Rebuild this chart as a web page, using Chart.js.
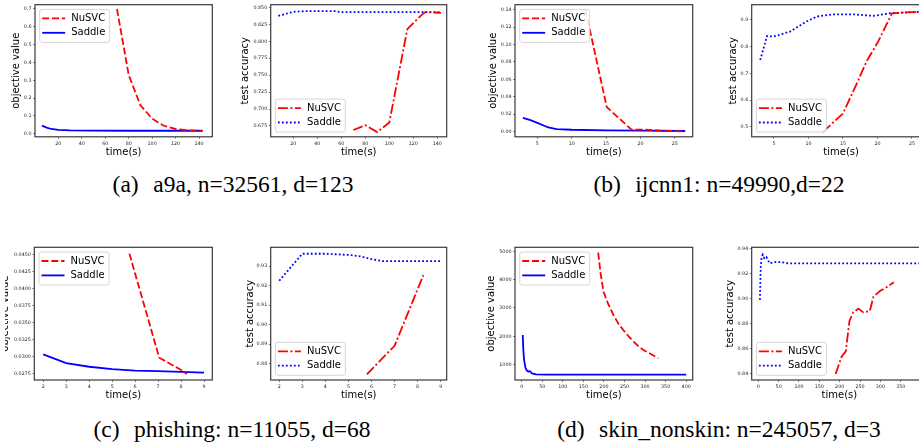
<!DOCTYPE html>
<html lang="en">
<head>
<meta charset="UTF-8">
<title>NuSVC vs Saddle</title>
<script src="https://cdn.jsdelivr.net/npm/chart.js"></script>
<style>
  html, body { margin: 0; padding: 0; background: #fff; overflow: hidden; }
  body { width: 919px; height: 442px; position: relative; }
  .row { position: absolute; overflow: hidden; }
  .row canvas { position: absolute; }
  .cap { position: absolute; font-family: "Liberation Serif", "Times New Roman", serif; font-size: 23.5px;
         white-space: nowrap; color: #000; transform: translate(-50%, -50%); }
  .cap span { margin-right: 0.62em; }
</style>
</head>
<body>
<div class="row" id="top" style="left:0;top:0;width:919px;height:170px"></div>
<div class="row" id="bot" style="left:5px;top:210px;width:914px;height:200px"></div>
<div class="cap" style="left:233px;top:184px"><span>(a)</span>a9a, n=32561, d=123</div>
<div class="cap" style="left:719px;top:184px"><span>(b)</span>ijcnn1: n=49990,d=22</div>
<div class="cap" style="left:232px;top:429px"><span>(c)</span>phishing: n=11055, d=68</div>
<div class="cap" style="left:719px;top:429px"><span>(d)</span>skin_nonskin: n=245057, d=3</div>
<script>
const seriesNames = ['NuSVC', 'Saddle'];

// (a) a9a
const a9aObjNuTime = [70, 80, 90, 100, 110, 120, 130, 143];
const a9aObjNu = [0.70, 0.33, 0.16, 0.085, 0.045, 0.027, 0.020, 0.015];
const a9aObjSaTime = [6, 10, 14, 20, 30, 50, 80, 110, 143];
const a9aObjSa = [0.046, 0.035, 0.027, 0.022, 0.019, 0.018, 0.017, 0.017, 0.017];
const a9aAccNuTime = [70, 80, 90, 100, 115, 127, 130, 143];
const a9aAccNu = [0.669, 0.676, 0.666, 0.680, 0.818, 0.839, 0.843, 0.842];
const a9aAccSaTime = [7.5, 20, 30, 55, 60, 143];
const a9aAccSa = [0.8376, 0.8435, 0.8445, 0.8445, 0.843, 0.843];

// (b) ijcnn1
const ijObjNuTime = [12, 15.1, 18.7, 20.5, 23, 26.5];
const ijObjNu = [0.140, 0.028, 0.002, 0.002, 0.001, 0.0];
const ijObjSaTime = [2.9, 4, 5, 6, 6.6, 7.8, 10, 15, 20, 26.5];
const ijObjSa = [0.0157, 0.013, 0.0099, 0.0065, 0.0046, 0.0026, 0.0019, 0.0012, 0.0008, 0.0005];
const ijAccNuTime = [12.1, 15.0, 17.0, 18.4, 20.1, 22.1, 24, 26.5];
const ijAccNu = [0.481, 0.55, 0.662, 0.744, 0.819, 0.925, 0.928, 0.930];
const ijAccSaTime = [3.0, 4.0, 4.9, 7.3, 9.7, 11.2, 13.6, 16.5, 19.4, 21.8, 26.5];
const ijAccSa = [0.75, 0.84, 0.8375, 0.856, 0.894, 0.9125, 0.921, 0.921, 0.915, 0.925, 0.931];

// (c) phishing
const phObjNuTime = [5.75, 7.05, 8.0, 8.25];
const phObjNu = [0.0451, 0.0298, 0.0280, 0.0274];
const phObjSaTime = [2, 3, 4, 5, 6, 7, 8, 9];
const phObjSa = [0.0303, 0.0290, 0.02847, 0.02813, 0.0279, 0.02782, 0.02772, 0.0276];
const phAccNuTime = [5.8, 7.0, 8.25];
const phAccNu = [0.8746, 0.8892, 0.9254];
const phAccSaTime = [2, 3, 4, 5, 5.5, 6, 6.5, 7, 8, 9];
const phAccSa = [0.9225, 0.9363, 0.9363, 0.9357, 0.935, 0.9335, 0.9325, 0.9325, 0.9325, 0.9325];

// (d) skin_nonskin
const skObjNuTime = [186, 192, 199, 210, 223, 235, 247, 260, 272, 284, 296, 314, 332];
const skObjNu = [4950, 4200, 3575, 3150, 2753, 2450, 2224, 2000, 1811, 1650, 1518, 1380, 1226];
const skObjSaTime = [2.5, 4, 6, 9, 12, 16, 20, 25, 35, 60, 100, 200, 300, 400];
const skObjSa = [2050, 1500, 1150, 900, 800, 760, 770, 690, 660, 650, 650, 650, 650, 650];
const skAccNuTime = [190, 205, 215, 224, 233, 246, 258, 274, 283, 299, 315, 333];
const skAccNu = [0.840, 0.854, 0.858, 0.882, 0.889, 0.892, 0.889, 0.890, 0.9015, 0.906, 0.909, 0.913];
const skAccSaTime = [4, 6, 8, 11, 15, 20, 28, 40, 55, 75, 150, 250, 395];
const skAccSa = [0.899, 0.925, 0.933, 0.935, 0.932, 0.933, 0.928, 0.929, 0.929, 0.928, 0.928, 0.928, 0.928];

// tick values and labels
const aXTicks = [20, 40, 60, 80, 100, 120, 140];
const aXLabels = ['20', '40', '60', '80', '100', '120', '140'];
const aObjYTicks = [0, 0.1, 0.2, 0.3, 0.4, 0.5, 0.6, 0.7];
const aObjYLabels = ['0.0', '0.1', '0.2', '0.3', '0.4', '0.5', '0.6', '0.7'];
const aAccYTicks = [0.675, 0.7, 0.725, 0.75, 0.775, 0.8, 0.825, 0.85];
const aAccYLabels = ['0.675', '0.700', '0.725', '0.750', '0.775', '0.800', '0.825', '0.850'];
const bXTicks = [5, 10, 15, 20, 25];
const bXLabels = ['5', '10', '15', '20', '25'];
const bObjYTicks = [0, 0.02, 0.04, 0.06, 0.08, 0.10, 0.12, 0.14];
const bObjYLabels = ['0.00', '0.02', '0.04', '0.06', '0.08', '0.10', '0.12', '0.14'];
const bAccYTicks = [0.5, 0.6, 0.7, 0.8, 0.9];
const bAccYLabels = ['0.5', '0.6', '0.7', '0.8', '0.9'];
const cXTicks = [2, 3, 4, 5, 6, 7, 8, 9];
const cXLabels = ['2', '3', '4', '5', '6', '7', '8', '9'];
const cObjYTicks = [0.0275, 0.03, 0.0325, 0.035, 0.0375, 0.04, 0.0425, 0.045];
const cObjYLabels = ['0.0275', '0.0300', '0.0325', '0.0350', '0.0375', '0.0400', '0.0425', '0.0450'];
const cAccYTicks = [0.88, 0.89, 0.90, 0.91, 0.92, 0.93];
const cAccYLabels = ['0.88', '0.89', '0.90', '0.91', '0.92', '0.93'];
const dObjXTicks = [0, 50, 100, 150, 200, 250, 300, 350, 400];
const dObjXLabels = ['0', '50', '100', '150', '200', '250', '300', '350', '400'];
const dAccXTicks = [0, 50, 100, 150, 200, 250, 300, 350];
const dAccXLabels = ['0', '50', '100', '150', '200', '250', '300', '350'];
const dObjYTicks = [1000, 2000, 3000, 4000, 5000];
const dObjYLabels = ['1000', '2000', '3000', '4000', '5000'];
const dAccYTicks = [0.84, 0.86, 0.88, 0.90, 0.92, 0.94];
const dAccYLabels = ['0.84', '0.86', '0.88', '0.90', '0.92', '0.94'];

const FONT = '"DejaVu Sans", sans-serif';
const RED = '#ff0000', BLUE = '#0000ff';
const LW = 1.8;
const styles = {
  obj: [{ color: RED, dash: [7, 2.8] }, { color: BLUE, dash: [] }],
  acc: [{ color: RED, dash: [10, 2.5, 2, 2.5] }, { color: BLUE, dash: [1.8, 2.2] }]
};

// matplotlib style frame round the plot area
const framePlugin = {
  id: 'frame',
  afterDatasetsDraw(chart) {
    const { ctx, chartArea: a } = chart;
    ctx.save();
    ctx.strokeStyle = '#3a3a3a';
    ctx.lineWidth = 1.2;
    ctx.strokeRect(a.left, a.top, a.right - a.left, a.bottom - a.top);
    ctx.restore();
  }
};

// legend box drawn inside the plot
const boxLegend = {
  id: 'boxLegend',
  afterDraw(chart, args, opts) {
    const { ctx, chartArea: a } = chart;
    const w = 70, h = 33;
    const x = a.left + 4.7;
    const y = opts.pos === 'ul' ? a.top + 4.7 : a.bottom - 4.7 - h;
    ctx.save();
    ctx.beginPath();
    if (ctx.roundRect) ctx.roundRect(x, y, w, h, 2.5); else ctx.rect(x, y, w, h);
    ctx.fillStyle = 'rgba(255,255,255,0.85)';
    ctx.fill();
    ctx.strokeStyle = '#cccccc';
    ctx.lineWidth = 0.8;
    ctx.stroke();
    chart.data.datasets.forEach((ds, i) => {
      const cy = y + 9 + i * 14.4;
      ctx.beginPath();
      ctx.setLineDash(ds.borderDash || []);
      ctx.strokeStyle = ds.borderColor;
      ctx.lineWidth = ds.borderWidth;
      ctx.lineCap = 'butt';
      ctx.moveTo(x + 2.5, cy);
      ctx.lineTo(x + 25.5, cy);
      ctx.stroke();
      ctx.setLineDash([]);
      ctx.fillStyle = '#000';
      ctx.font = '10px ' + FONT;
      ctx.textBaseline = 'middle';
      ctx.fillText(ds.label, x + 31.5, cy);
    });
    ctx.restore();
  }
};

const panels = [
  { host: 'top', box: [35, 4.7, 212.3, 136.8], x: [0.1, 151.3], y: [-0.0168, 0.724],
    xt: aXTicks, xtl: aXLabels, yt: aObjYTicks, ytl: aObjYLabels, kind: 'obj', gap: 18.3, legend: 'ul',
    nu: [a9aObjNuTime, a9aObjNu], sa: [a9aObjSaTime, a9aObjSa] },
  { host: 'top', box: [270.7, 4.7, 446.7, 136.8], x: [1.2, 147.8], y: [0.659, 0.854],
    xt: aXTicks, xtl: aXLabels, yt: aAccYTicks, ytl: aAccYLabels, kind: 'acc', gap: 25, legend: 'll',
    nu: [a9aAccNuTime, a9aAccNu], sa: [a9aAccSaTime, a9aAccSa] },
  { host: 'top', box: [515, 4.7, 692.7, 136.8], x: [1.75, 27.6], y: [-0.0062, 0.1458],
    xt: bXTicks, xtl: bXLabels, yt: bObjYTicks, ytl: bObjYLabels, kind: 'obj', gap: 21.7, legend: 'ul',
    nu: [ijObjNuTime, ijObjNu], sa: [ijObjSaTime, ijObjSa] },
  { host: 'top', box: [751.7, 4.7, 930.6, 136.8], x: [1.77, 27.7], y: [0.4625, 0.957],
    xt: bXTicks, xtl: bXLabels, yt: bAccYTicks, ytl: bAccYLabels, kind: 'acc', gap: 18.4, legend: 'll',
    nu: [ijAccNuTime, ijAccNu], sa: [ijAccSaTime, ijAccSa] },
  { host: 'bot', box: [34.3, 247.3, 212.3, 380], x: [1.61, 9.36], y: [0.02652, 0.04603],
    xt: cXTicks, xtl: cXLabels, yt: cObjYTicks, ytl: cObjYLabels, kind: 'obj', gap: 29, legend: 'ul',
    nu: [phObjNuTime, phObjNu], sa: [phObjSaTime, phObjSa] },
  { host: 'bot', box: [270.7, 247.3, 446.7, 380], x: [1.63, 9.26], y: [0.8717, 0.9396],
    xt: cXTicks, xtl: cXLabels, yt: cAccYTicks, ytl: cAccYLabels, kind: 'acc', gap: 20.7, legend: 'll',
    nu: [phAccNuTime, phAccNu], sa: [phAccSaTime, phAccSa] },
  { host: 'bot', box: [515, 247.3, 692.7, 380], x: [-16.3, 415.8], y: [460, 5141],
    xt: dObjXTicks, xtl: dObjXLabels, yt: dObjYTicks, ytl: dObjYLabels, kind: 'obj', gap: 23.3, legend: 'ul',
    nu: [skObjNuTime, skObjNu], sa: [skObjSaTime, skObjSa] },
  { host: 'bot', box: [751.7, 247.3, 927, 380], x: [-16.2, 414.6], y: [0.8352, 0.9408],
    xt: dAccXTicks, xtl: dAccXLabels, yt: dAccYTicks, ytl: dAccYLabels, kind: 'acc', gap: 21.7, legend: 'll',
    nu: [skAccNuTime, skAccNu], sa: [skAccSaTime, skAccSa] }
];

const hostOffset = { top: [0, 0], bot: [5, 210] };

function makePanel(p) {
  const host = document.getElementById(p.host);
  const [ox, oy] = hostOffset[p.host];
  const [l, t, r, b] = p.box;
  const cl = Math.floor(l - 40), ct = Math.floor(t - 8);
  const yw = l - cl, pt = t - ct;
  const cw = Math.ceil(r - cl + 8), ch = Math.ceil(b - ct + 26);
  const pr = cw - (r - cl), xh = ch - (b - ct);
  const canvas = document.createElement('canvas');
  canvas.width = cw; canvas.height = ch;
  canvas.style.left = (cl - ox) + 'px';
  canvas.style.top = (ct - oy) + 'px';
  host.appendChild(canvas);

  const st = styles[p.kind];
  const series = [p.nu, p.sa];
  const datasets = series.map((s, i) => ({
    label: seriesNames[i],
    data: s[0].map((x, j) => ({ x: x, y: s[1][j] })),
    borderColor: st[i].color,
    borderDash: st[i].dash,
    borderWidth: LW,
    borderCapStyle: 'butt',
    pointRadius: 0,
    fill: false,
    tension: 0,
    clip: 0
  }));

  const tickFont = { family: FONT, size: 4.8 };
  const grid = { display: true, drawOnChartArea: false, drawTicks: true, tickLength: 2, color: '#333', lineWidth: 0.6 };

  new Chart(canvas.getContext('2d'), {
    type: 'line',
    data: { datasets: datasets },
    plugins: [framePlugin, boxLegend],
    options: {
      responsive: false,
      animation: false,
      devicePixelRatio: 1,
      events: [],
      layout: { padding: { left: 0, top: pt, right: pr, bottom: 0 } },
      plugins: {
        legend: { display: false },
        tooltip: { enabled: false },
        boxLegend: { pos: p.legend }
      },
      scales: {
        x: {
          type: 'linear', min: p.x[0], max: p.x[1], bounds: 'data',
          afterBuildTicks: s => { s.ticks = p.xt.map(v => ({ value: v })); },
          afterFit: s => { s.height = xh; s.paddingLeft = 0; s.paddingRight = 0; },
          ticks: { autoSkip: false, maxRotation: 0, padding: 2.2, color: '#222', font: tickFont,
                   callback: (v, i) => p.xtl[i] },
          grid: grid,
          border: { display: false },
          title: { display: true, text: 'time(s)', color: '#000', font: { family: FONT, size: 10 },
                   padding: { top: 0, bottom: ch - (b - ct) - 15.4 - 6 } }
        },
        y: {
          type: 'linear', min: p.y[0], max: p.y[1], bounds: 'data',
          afterBuildTicks: s => { s.ticks = p.yt.map(v => ({ value: v })); },
          afterFit: s => { s.width = yw; s.paddingTop = 0; s.paddingBottom = 0; },
          ticks: { autoSkip: false, padding: 1.5, color: '#222', font: tickFont,
                   callback: (v, i) => p.ytl[i] },
          grid: grid,
          border: { display: false },
          title: { display: true, text: p.kind === 'obj' ? 'objective value' : 'test accuracy', color: '#000',
                   font: { family: FONT, size: 10 }, padding: { top: yw - p.gap - 6, bottom: 0 } }
        }
      }
    }
  });
}

panels.forEach(makePanel);
</script>
</body>
</html>
